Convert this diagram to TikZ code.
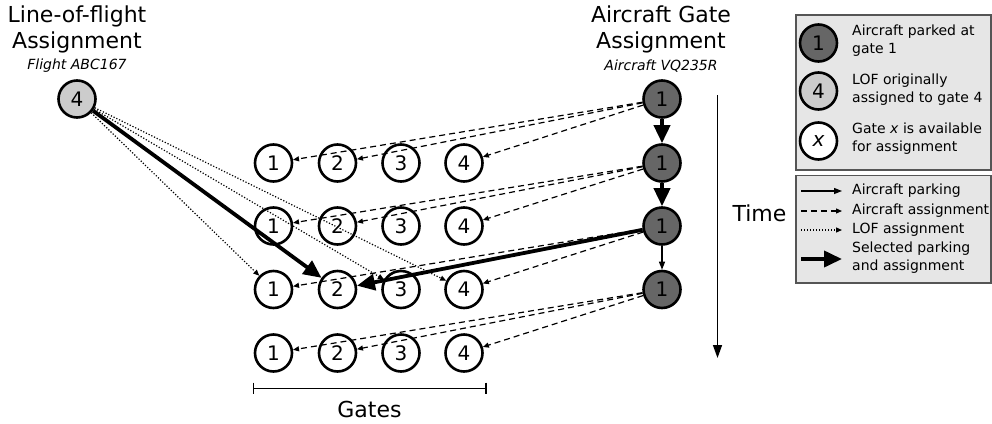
\documentclass[tikz,border=0pt]{standalone}
\usepackage{fontspec}
\setmainfont{DejaVu Sans}
\usetikzlibrary{arrows.meta}
\definecolor{acftgray}{HTML}{666666}
\definecolor{lofgray}{HTML}{CCCCCC}
\definecolor{legfill}{HTML}{E6E6E6}
\definecolor{legline}{HTML}{555555}
\tikzset{
  gate/.style={circle, draw, line width=2.6pt, minimum size=37pt, inner sep=0pt, fill=white, font=\fontsize{20}{20}\selectfont},
  acft/.style={gate, fill=acftgray},
  lof/.style={gate, fill=lofgray},
  dashconn/.style={line width=1.2pt, dash pattern=on 6pt off 4pt, -{Triangle[length=6pt,width=5pt]}},
  dotconn/.style={line width=1.2pt, dash pattern=on 1.2pt off 1.8pt, -{Triangle[length=6pt,width=5pt]}},
  thickconn/.style={line width=3.8pt, -{Triangle[length=18pt,width=16pt]}},
  thinconn/.style={line width=1.3pt, -{Triangle[length=8pt,width=6pt]}},
  timeconn/.style={line width=1.5pt, -{Triangle[length=13pt,width=9pt]}},
  title/.style={align=center, font=\fontsize{22}{26}\selectfont, inner sep=0pt},
  subtitle/.style={font=\fontsize{14}{16}\selectfont\itshape, inner sep=0pt},
  legtext/.style={anchor=west, align=left, font=\fontsize{14}{18}\selectfont, inner sep=0pt},
  legbox/.style={draw=legline, fill=legfill, line width=1.5pt}
}
\begin{document}
\begin{tikzpicture}[x=1pt,y=-1pt]
\useasboundingbox (0,0) rectangle (992,423);

% titles
\node[title] (t1) at (77,29) {Line-of-flight\\Assignment};
\node[subtitle] (s1) at (77,66) {Flight ABC167};
\node[title] (t2) at (661,29) {Aircraft Gate\\Assignment};
\node[subtitle] (s2) at (661,66) {Aircraft VQ235R};

% LOF node
\node[lof] (L) at (77,99) {4};

% aircraft nodes
\node[acft] (A1) at (662,99) {1};
\node[acft] (A2) at (662,163) {1};
\node[acft] (A3) at (662,226) {1};
\node[acft] (A4) at (662,289.5) {1};

% gate grid
\foreach \r/\y in {1/163,2/226,3/289.5,4/353}{
  \foreach \c/\x in {1/273.5,2/337.5,3/401,4/464}{
    \node[gate] (g\r\c) at (\x,\y) {\c};
  }
}

% aircraft parking arrows
\draw[thickconn] (A1) -- (A2);
\draw[thickconn] (A2) -- (A3);
\draw[thinconn] (A3) -- (A4);

% aircraft assignment (dashed)
\draw[dashconn] (A1) -- (g11);
\draw[dashconn] (A1) -- (g12);
\draw[dashconn] (A1) -- (g14);
\draw[dashconn] (A2) -- (g21);
\draw[dashconn] (A2) -- (g22);
\draw[dashconn] (A2) -- (g24);
\draw[dashconn] (A3) -- (g31);
\draw[dashconn] (A3) -- (g34);
\draw[dashconn] (A4) -- (g41);
\draw[dashconn] (A4) -- (g42);
\draw[dashconn] (A4) -- (g44);

% LOF assignment (dotted)
\draw[dotconn] (L) -- (g31);
\draw[dotconn] (L) -- (g33);
\draw[dotconn] (L) -- (g34);

% selected
\draw[thickconn] (L) -- (g32);
\draw[thickconn] (A3) -- (g32);

% time axis
\coordinate (ts) at (717.5,95);
\coordinate (te) at (717.5,358);
\draw[timeconn] (ts) -- (te);
\node[title] (time) at (759.5,213) {Time};

% gates bracket
\coordinate (gl) at (253.5,388.3);
\coordinate (gr) at (486,388.3);
\coordinate (glt) at (253.5,382.5);
\coordinate (glb) at (253.5,394);
\coordinate (grt) at (486,382.5);
\coordinate (grb) at (486,394);
\draw[line width=1.3pt] (gl) -- (gr);
\draw[line width=1.3pt] (glt) -- (glb);
\draw[line width=1.3pt] (grt) -- (grb);
\node[title] (gates) at (369.5,409) {Gates};

% legend box 1
\draw[legbox] (796,15) rectangle (991,170);
\node[acft] (k1) at (818.5,43) {1};
\node[lof] (k2) at (818.5,91) {4};
\node[gate] (k3) at (818.5,141) {\itshape x};
\node[legtext] (k1t) at (852,41) {Aircraft parked at\\gate 1};
\node[legtext] (k2t) at (852,90) {LOF originally\\assigned to gate 4};
\node[legtext] (k3t) at (852,139) {Gate \textit{x} is available\\for assignment};

% legend box 2
\draw[legbox] (796,175.5) rectangle (991,283);
\coordinate (la1) at (801,191); \coordinate (lb1) at (842,191);
\coordinate (la2) at (801,211); \coordinate (lb2) at (842,211);
\coordinate (la3) at (801,230); \coordinate (lb3) at (842,230);
\coordinate (la4) at (801,259); \coordinate (lb4) at (842,259);
\draw[thinconn] (la1) -- (lb1);
\draw[dashconn] (la2) -- (lb2);
\draw[dotconn] (la3) -- (lb3);
\draw[thickconn] (la4) -- (lb4);
\node[legtext] (m1) at (852,191) {Aircraft parking};
\node[legtext] (m2) at (852,211) {Aircraft assignment};
\node[legtext] (m3) at (852,230) {LOF assignment};
\node[legtext] (m4) at (852,258) {Selected parking\\and assignment};
\end{tikzpicture}
\end{document}
